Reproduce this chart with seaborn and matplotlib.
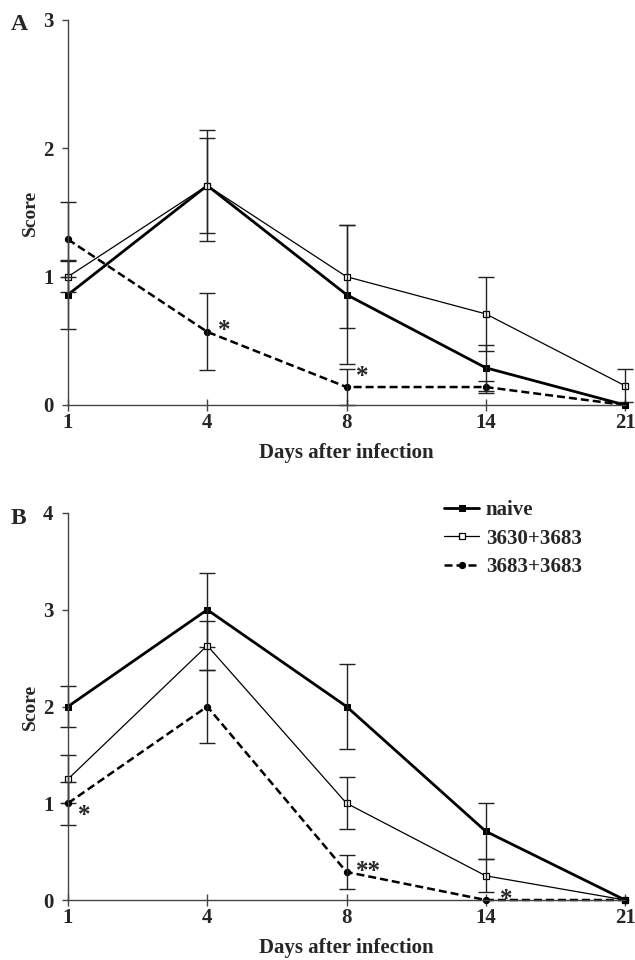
import numpy as np
import pandas as pd
import matplotlib
matplotlib.use("Agg")
import matplotlib.pyplot as plt
import seaborn as sns

# x categories (days after infection) and groups
days = ["1", "4", "8", "14", "21"]
groups = ["naive", "3630+3683", "3683+3683"]

# Panel A: mean score and error per group
a_naive = [0.86, 1.71, 0.86, 0.29, 0.0]
a_naive_err = [0.27, 0.37, 0.54, 0.18, 0.0]
a_3630 = [1.0, 1.71, 1.0, 0.71, 0.15]
a_3630_err = [0.12, 0.43, 0.40, 0.29, 0.13]
a_3683 = [1.29, 0.57, 0.14, 0.14, 0.0]
a_3683_err = [0.29, 0.30, 0.14, 0.05, 0.0]

# Panel B
b_naive = [2.0, 3.0, 2.0, 0.71, 0.0]
b_naive_err = [0.21, 0.38, 0.44, 0.29, 0.0]
b_3630 = [1.25, 2.63, 1.0, 0.25, 0.0]
b_3630_err = [0.25, 0.25, 0.27, 0.17, 0.0]
b_3683 = [1.0, 2.0, 0.29, 0.0, 0.0]
b_3683_err = [0.22, 0.38, 0.18, 0.0, 0.0]

# significance marks: (x position, y value, text)
a_stars = [(1.12, 0.58, "*"), (2.11, 0.22, "*")]
b_stars = [(0.12, 0.87, "*"), (2.16, 0.29, "**"), (3.15, 0.01, "*")]

sns.set_style("ticks")
plt.rcParams["font.family"] = ["Liberation Serif", "DejaVu Serif"]
plt.rcParams["font.weight"] = "bold"
plt.rcParams["axes.labelweight"] = "bold"

styles = {
    "naive": dict(lw=2.0, marker="s", ms=4.5, mfc="black", mec="black", ls="-"),
    "3630+3683": dict(lw=0.9, marker="s", ms=5, mfc="white", mec="black", mew=0.9, ls="-"),
    "3683+3683": dict(lw=1.8, marker="o", ms=4.5, mfc="black", mec="black", ls=(0, (3.2, 1.6))),
}

fig = plt.figure(figsize=(6.35, 9.6), dpi=100)
axA = fig.add_axes([68 / 635, 1 - 405 / 960, 557 / 635, 385 / 960])
axB = fig.add_axes([68 / 635, 1 - 900 / 960, 557 / 635, 387 / 960])


def draw(ax, means, errs, ymax, stars):
    df = pd.DataFrame({
        "pos": np.tile(np.arange(len(days)), len(groups)),
        "score": np.concatenate(means),
        "err": np.concatenate(errs),
        "group": np.repeat(groups, len(days)),
    })
    for g in groups:
        sub = df[df["group"] == g]
        sns.lineplot(data=sub, x="pos", y="score", ax=ax, color="black",
                     label=g, errorbar=None, clip_on=False, **styles[g])
        has = sub[sub["err"] > 0]
        ax.errorbar(has["pos"], has["score"], yerr=has["err"], fmt="none",
                    ecolor="#222222", elinewidth=1.0, capsize=6, capthick=1.0,
                    clip_on=False)
    for x, y, s in stars:
        ax.text(x, y, s, fontsize=18, ha="center", va="center")
    ax.set_xlim(0, len(days) - 1)
    ax.set_ylim(0, ymax)
    ax.set_xticks(range(len(days)))
    ax.set_xticklabels(days)
    ax.set_yticks(range(ymax + 1))
    ax.tick_params(axis="both", labelsize=15, width=1, color="#444444")
    ax.tick_params(axis="y", direction="out", length=4.5, pad=6)
    ax.tick_params(axis="x", direction="inout", length=8, pad=2)
    ax.set_xlabel("Days after infection", fontsize=15, labelpad=7)
    ax.set_ylabel("Score", fontsize=14, labelpad=3)
    sns.despine(ax=ax)
    for sp in ["left", "bottom"]:
        ax.spines[sp].set_color("#444444")
        ax.spines[sp].set_linewidth(1)


draw(axA, [a_naive, a_3630, a_3683], [a_naive_err, a_3630_err, a_3683_err], 3, a_stars)
draw(axB, [b_naive, b_3630, b_3683], [b_naive_err, b_3630_err, b_3683_err], 4, b_stars)

axA.get_legend().remove()
handles, labels = axB.get_legend_handles_labels()
axB.legend(handles[:3], labels[:3], loc="upper left",
           bbox_to_anchor=(444 / 635, 1 - 500 / 960), bbox_transform=fig.transFigure,
           frameon=False, fontsize=15, handlelength=1.7, handletextpad=0.3,
           labelspacing=0.42, borderpad=0, borderaxespad=0)

fig.text(11 / 635, 1 - 25 / 960, "A", fontsize=17, va="center", ha="left")
fig.text(11 / 635, 1 - 518 / 960, "B", fontsize=17, va="center", ha="left")

fig.savefig("out.png", dpi=100)
